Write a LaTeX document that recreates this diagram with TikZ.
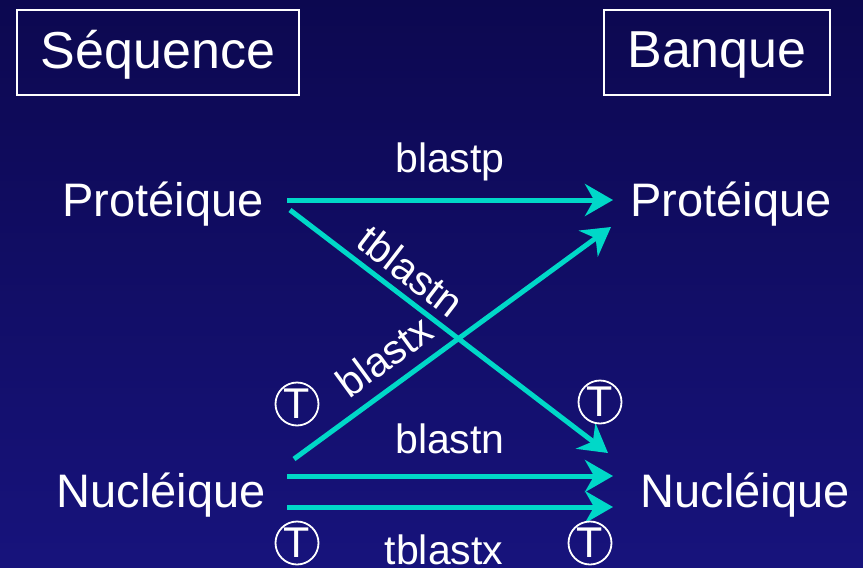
\documentclass[tikz,border=0pt]{standalone}
\usepackage{fontspec}
\setmainfont{Liberation Sans}
\usetikzlibrary{arrows.meta}
\definecolor{bgtop}{HTML}{0C0850}
\definecolor{bgbot}{HTML}{17137C}
\definecolor{teal}{HTML}{00D8C8}
\begin{document}
\begin{tikzpicture}[x=1pt,y=-1pt,
  lbl/.style={text=white,inner sep=0pt,font=\fontsize{47}{52}\selectfont},
  prog/.style={text=white,inner sep=0pt,font=\fontsize{41}{46}\selectfont},
  hdr/.style={draw=white,line width=1.6pt,text=white,inner sep=0pt,font=\fontsize{52}{58}\selectfont},
  flow/.style={draw=teal,line width=5pt,-{Stealth[length=28pt,width=32pt,inset=9pt]}},
  tmark/.style={circle,draw=white,line width=1.8pt,text=white,minimum size=43pt,inner sep=0pt,font=\fontsize{43}{46}\selectfont}]
  % background
  \shade[top color=bgtop,bottom color=bgbot] (0,0) rectangle (863,568);
  \useasboundingbox (0,0) rectangle (863,568);

  % header boxes
  \node[hdr,minimum width=282pt,minimum height=85pt] (seq) at (158,52.5) {};
  \node[hdr,minimum width=226pt,minimum height=85pt] (bnq) at (717,52.5) {};
  \node[text=white,inner sep=0pt,font=\fontsize{52}{58}\selectfont] (seqT) at (158,55) {Séquence};
  \node[text=white,inner sep=0pt,font=\fontsize{52}{58}\selectfont] (bnqT) at (717,55) {Banque};

  % sequence and bank types
  \node[lbl] (protL) at (163,204) {Protéique};
  \node[lbl] (protR) at (731,204) {Protéique};
  \node[lbl] (nuclL) at (161,495) {Nucléique};
  \node[lbl] (nuclR) at (745,495) {Nucléique};

  % connector end points
  \coordinate (pA) at (287,200);
  \coordinate (pB) at (613,200);
  \coordinate (tnA) at (290,210);
  \coordinate (tnB) at (608,453);
  \coordinate (bxA) at (294,459);
  \coordinate (bxB) at (611,227);
  \coordinate (nA) at (287,476);
  \coordinate (nB) at (613,476);
  \coordinate (txA) at (287,507);
  \coordinate (txB) at (613,507);

  % program arrows
  \draw[flow] (pA) -- (pB);
  \draw[flow] (tnA) -- (tnB);
  \draw[flow] (bxA) -- (bxB);
  \draw[flow] (nA) -- (nB);
  \draw[flow] (txA) -- (txB);

  % program names
  \node[prog] (blastp) at (450,162) {blastp};
  \node[prog,rotate=-37.5] (tblastn) at (411,271) {tblastn};
  \node[prog,rotate=36.2] (blastx) at (384,356) {blastx};
  \node[prog] (blastn) at (450,439) {blastn};
  \node[prog] (tblastx) at (444,550) {tblastx};

  % translation marks
  \node[tmark] (t1) at (297,404) {T};
  \node[tmark] (t2) at (600,402) {T};
  \node[tmark] (t3) at (297,543) {T};
  \node[tmark] (t4) at (590,543) {T};
\end{tikzpicture}
\end{document}
